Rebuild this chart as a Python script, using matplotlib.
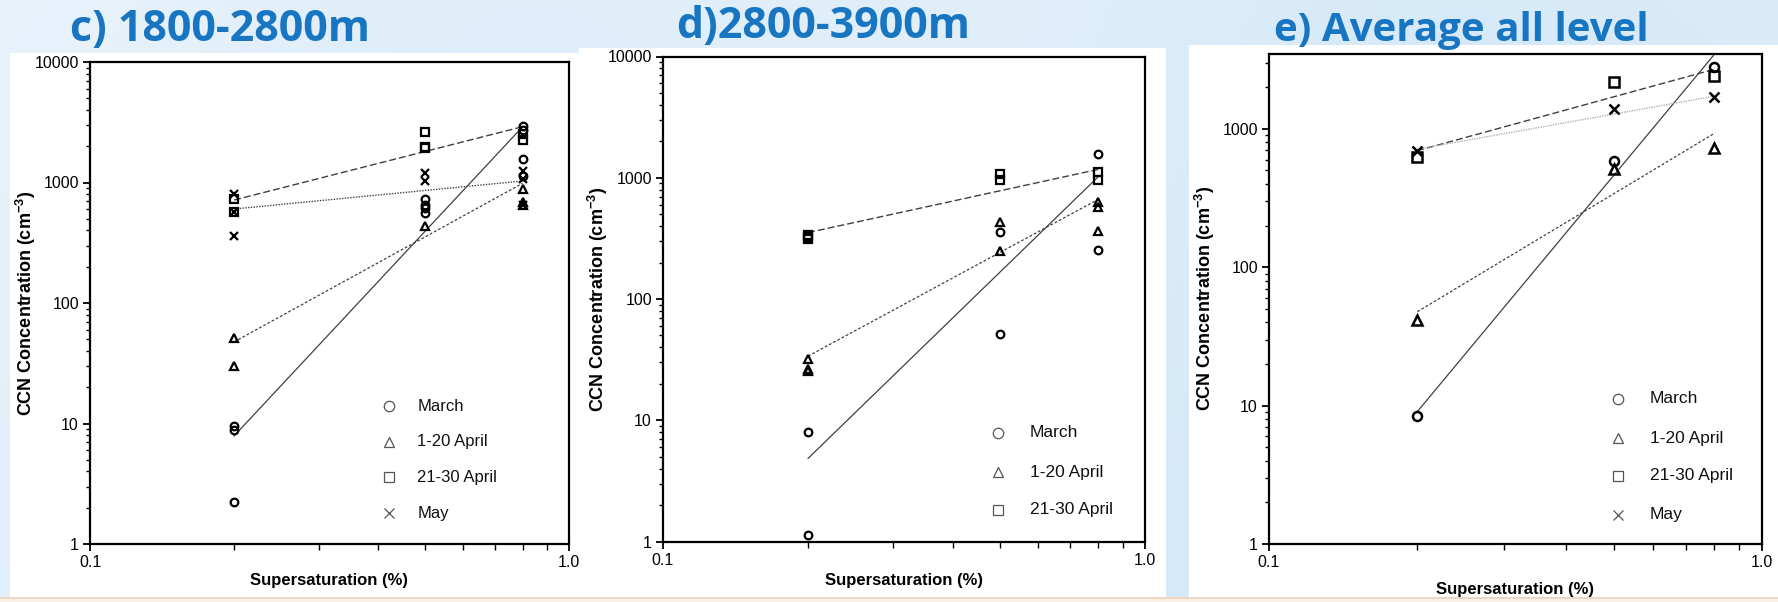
import numpy as np
import matplotlib
matplotlib.use('Agg')
import matplotlib.pyplot as plt
from matplotlib.patches import Rectangle
from matplotlib.ticker import LogLocator, FixedLocator, FixedFormatter, NullFormatter

plt.rcParams['font.family'] = ['Liberation Sans', 'DejaVu Sans']
plt.rcParams['mathtext.fontset'] = 'custom'
plt.rcParams['mathtext.rm'] = 'Liberation Sans'
plt.rcParams['mathtext.bf'] = 'Liberation Sans:bold'

# ---------------- data ----------------
months = ['March', '1-20 April', '21-30 April', 'May']
markers = ['o', '^', 's', 'x']

# Panel c) 1800-2800m
c_march_x = [0.2, 0.2, 0.2, 0.5, 0.5, 0.5, 0.5, 0.8, 0.8, 0.8, 0.8]
c_march_y = [9.5, 8.9, 2.24, 726, 650, 618, 562, 2944, 2730, 1567, 1139]
c_apr1_x = [0.2, 0.2, 0.5, 0.8, 0.8, 0.8]
c_apr1_y = [51, 30, 438, 878, 693, 650]
c_apr2_x = [0.2, 0.2, 0.5, 0.5, 0.5, 0.8, 0.8]
c_apr2_y = [726, 573, 2640, 1960, 1930, 2512, 2254]
c_may_x = [0.2, 0.2, 0.2, 0.5, 0.5, 0.8, 0.8, 0.8]
c_may_y = [798, 573, 362, 1191, 1029, 1245, 1069, 650]
c_fit_x = [0.2, 0.8]
c_fit_march = [7.9, 2900]
c_fit_apr1 = [47.6, 985]
c_fit_apr2 = [716, 2905]
c_fit_may = [603, 1029]

# Panel d) 2800-3900m
d_march_x = [0.2, 0.2, 0.5, 0.5, 0.8, 0.8]
d_march_y = [7.94, 1.13, 356, 51, 1556, 255]
d_apr1_x = [0.2, 0.2, 0.2, 0.5, 0.5, 0.8, 0.8, 0.8]
d_apr1_y = [32.2, 26.7, 25.3, 435, 251, 635, 571, 365]
d_apr2_x = [0.2, 0.2, 0.2, 0.5, 0.5, 0.8, 0.8]
d_apr2_y = [340, 325, 310, 1072, 958, 1120, 958]
d_fit_x = [0.2, 0.8]
d_fit_march = [4.85, 1020]
d_fit_apr1 = [33.8, 664]
d_fit_apr2 = [353, 1172]

# Panel e) Average all level
e_x = [0.2, 0.5, 0.8]
e_march = [8.43, 581, 2780]
e_apr1 = [41.6, 511, 727]
e_apr2 = [628, 2179, 2400]
e_may = [695, 1393, 1688]
e_fit_x = [0.2, 0.8]
e_fit_march = [9.06, 3440]
e_fit_apr1 = [47.7, 926]
e_fit_apr2 = [695, 2692]
e_fit_may = [713, 1721]

# ---------------- figure ----------------
W, H = 1778, 602
fig = plt.figure(figsize=(W / 100, H / 100), dpi=100)

# slide background gradient
bg = fig.add_axes([0, 0, 1, 1], zorder=-10)
gx = np.linspace(0, 1, 300)
gy = np.linspace(0, 1, 100)
GX, GY = np.meshgrid(gx, gy)
c1 = np.array([0.91, 0.95, 0.985])
c2 = np.array([0.81, 0.90, 0.97])
t = np.clip(0.55 * GX + 0.25 * GY + 0.2 * np.sin(GX * 6) ** 2, 0, 1)[..., None]
img = c1 * (1 - t) + c2 * t
bg.imshow(img, aspect='auto', extent=[0, 1, 0, 1], origin='upper')
bg.set_xlim(0, 1)
bg.set_ylim(0, 1)
bg.axis('off')


def px_rect(x0, y0, x1, y1, color, z=-5):
    fig.patches.append(Rectangle((x0 / W, 1 - y1 / H), (x1 - x0) / W, (y1 - y0) / H,
                                 transform=fig.transFigure, facecolor=color,
                                 edgecolor='none', zorder=z))


px_rect(10, 53, 581, 597, 'white')
px_rect(579, 48, 1166, 597, 'white')
px_rect(1189, 45, 1778, 597, 'white')
px_rect(0, 597, W, 598.5, '#f0d6c0', z=-4)
px_rect(0, 598.5, W, H, '#fbf0e6', z=-4)


def make_ax(l, r, t, b):
    return fig.add_axes([l / W, 1 - b / H, (r - l) / W, (b - t) / H])


title_color = '#1775c1'
fig.text(70 / W, 1 - 41 / H, 'c) 1800-2800m', fontsize=31, fontweight='bold',
         color=title_color, family='Open Sans', va='baseline', ha='left')
fig.text(676 / W, 1 - 38 / H, 'd)2800-3900m', fontsize=31, fontweight='bold',
         color=title_color, family='Open Sans', va='baseline', ha='left')
fig.text(1274 / W, 1 - 41 / H, 'e) Average all level', fontsize=29, fontweight='bold',
         color=title_color, family='Open Sans', va='baseline', ha='left')

line_col = '#404040'
styles = {
    'March': dict(color=line_col, lw=0.9, ls='-'),
    '1-20 April': dict(color=line_col, lw=0.9, ls=(0, (2.2, 1.6))),
    '21-30 April': dict(color=line_col, lw=1.0, ls=(0, (5, 2.2))),
    'May': dict(color=line_col, lw=1.0, ls=(0, (1, 1))),
}
mk = dict(mfc='none', mec='black', mew=1.6, ls='none', ms=5.5, zorder=3)
mk_sizes = {'o': 5.5, '^': 5.5, 's': 6.0, 'x': 5.5}


def style_axes(ax, ymax, yticks, legend_pos, nleg, xlab_y, ylab_x, legfs):
    ax.set_xscale('log')
    ax.set_yscale('log')
    ax.set_xlim(0.1, 1.0)
    ax.set_ylim(1, ymax)
    for s in ax.spines.values():
        s.set_linewidth(1.6)
        s.set_color('black')
    ax.xaxis.set_major_locator(FixedLocator([0.1, 1.0]))
    ax.xaxis.set_major_formatter(FixedFormatter(['0.1', '1.0']))
    ax.xaxis.set_minor_locator(FixedLocator([0.2, 0.3, 0.4, 0.5, 0.6, 0.7, 0.8, 0.9]))
    ax.xaxis.set_minor_formatter(NullFormatter())
    ax.yaxis.set_major_locator(FixedLocator(yticks))
    ax.yaxis.set_major_formatter(FixedFormatter([str(int(v)) for v in yticks]))
    ax.yaxis.set_minor_locator(LogLocator(base=10, subs=np.arange(2, 10), numticks=20))
    ax.yaxis.set_minor_formatter(NullFormatter())
    ax.tick_params(which='major', direction='out', length=5, width=1.3,
                   labelsize=11.5, pad=3, colors='black')
    ax.tick_params(which='minor', direction='out', length=3, width=1.0)
    ax.tick_params(axis='x', which='minor', length=4)
    ax.set_xlabel('Supersaturation (%)', fontsize=12, fontweight='bold')
    ax.set_ylabel(r'CCN Concentration (cm$^{\mathbf{-3}}$)', fontsize=13,
                  fontweight='bold')
    ax.xaxis.set_label_coords(0.5, xlab_y)
    ax.yaxis.set_label_coords(ylab_x, 0.5)
    mx, tx, ys = legend_pos
    for i in range(nleg):
        m = markers[i]
        ax.plot([mx], [ys[i]], transform=ax.transAxes, marker=m, mfc='none',
                mec='#555555', mew=0.9, ms=7.5 if m != 'x' else 7, ls='none',
                clip_on=False)
        ax.text(tx, ys[i], months[i], transform=ax.transAxes, fontsize=legfs,
                va='center', ha='left', color='#111111')


# ---- panel c
axc = make_ax(90, 569, 62, 544)
for name, fy in zip(months, [c_fit_march, c_fit_apr1, c_fit_apr2, c_fit_may]):
    axc.plot(c_fit_x, fy, **styles[name], zorder=2)
for m, xs, ys in zip(markers, [c_march_x, c_apr1_x, c_apr2_x, c_may_x],
                     [c_march_y, c_apr1_y, c_apr2_y, c_may_y]):
    axc.plot(xs, ys, marker=m, **{**mk, 'ms': mk_sizes[m]})
style_axes(axc, 10000, [1, 10, 100, 1000, 10000],
           (0.624, 0.683, [0.286, 0.212, 0.139, 0.064]), 4, -0.060, -0.109, 12)

# ---- panel d
axd = make_ax(663, 1145, 56.5, 541.5)
for name, fy in zip(months[:3], [d_fit_march, d_fit_apr1, d_fit_apr2]):
    axd.plot(d_fit_x, fy, **styles[name], zorder=2)
for m, xs, ys in zip(markers[:3], [d_march_x, d_apr1_x, d_apr2_x],
                     [d_march_y, d_apr1_y, d_apr2_y]):
    axd.plot(xs, ys, marker=m, **{**mk, 'ms': mk_sizes[m]})
style_axes(axd, 10000, [1, 10, 100, 1000, 10000],
           (0.695, 0.761, [0.224, 0.143, 0.065]), 3, -0.064, -0.109, 12.5)

# ---- panel e
axe = make_ax(1269, 1762, 53.5, 544)
e_styles = dict(styles)
e_styles['May'] = dict(color='#b0b0b0', lw=1.0, ls=(0, (1, 0.8)))
for name, fy in zip(months, [e_fit_march, e_fit_apr1, e_fit_apr2, e_fit_may]):
    axe.plot(e_fit_x, fy, **e_styles[name], zorder=2)
for m, ys in zip(markers, [e_march, e_apr1, e_apr2, e_may]):
    axe.plot(e_x, ys, marker=m, **{**mk, 'ms': mk_sizes[m] + 1.0, 'mew': 1.8})
style_axes(axe, 3500, [1, 10, 100, 1000],
           (0.708, 0.773, [0.296, 0.216, 0.139, 0.060]), 4, -0.0775, -0.105, 12.5)

fig.savefig('out.png', dpi=100)
